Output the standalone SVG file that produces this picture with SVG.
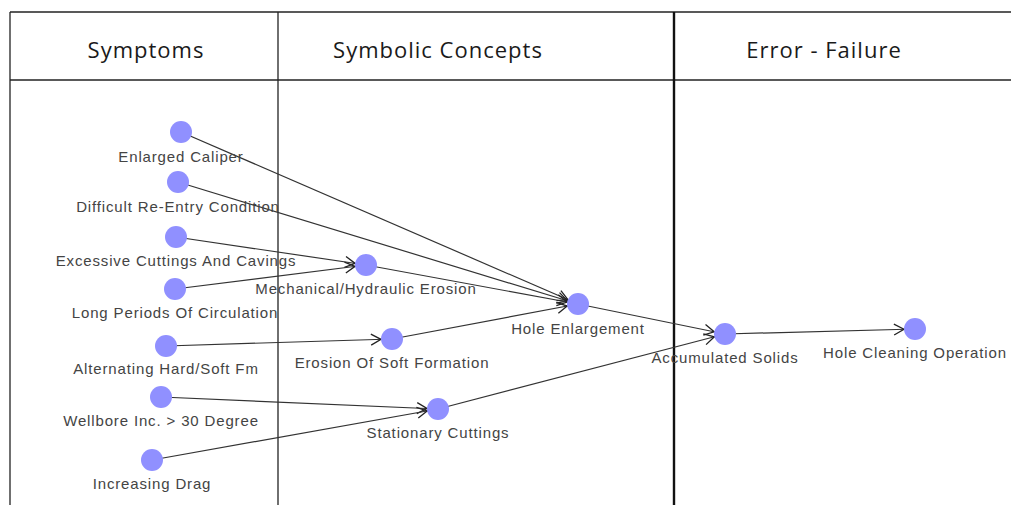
<svg xmlns="http://www.w3.org/2000/svg" width="1011" height="505" viewBox="0 0 1011 505">
  <style>
    .grid { stroke: #222; stroke-width: 1.3; fill: none; }
    .grid-thick { stroke: #111; stroke-width: 2.4; fill: none; }
    .head { font-family: "Open Sans", "Liberation Sans", sans-serif; font-size: 22px; letter-spacing: 1px; fill: #1a1a1a; text-anchor: middle; }
    .edge { stroke: #333; stroke-width: 1.2; fill: none; marker-end: url(#arrow); }
    .node circle { fill: #9090ff; }
    .node text { font-family: "Liberation Sans", Arial, sans-serif; font-size: 15px; letter-spacing: 0.85px; fill: #444; text-anchor: middle; }
  </style>
  <defs>
    <!-- open arrowhead, tip set back by the node radius so it touches the circle -->
    <marker id="arrow" markerUnits="userSpaceOnUse" markerWidth="40" markerHeight="20" viewBox="-30 -10 40 20" refX="0" refY="0" orient="auto" overflow="visible">
      <path d="M -21 -5.5 L -11 0 L -21 5.5" fill="none" stroke="#222" stroke-width="1.3"/>
    </marker>
  </defs>

  <rect width="1011" height="505" fill="#fff"/>

  <!-- table frame -->
  <g id="table">
    <line class="grid" x1="10" y1="12" x2="1011" y2="12"/>
    <line class="grid" x1="10" y1="80" x2="1011" y2="80"/>
    <line class="grid" x1="10" y1="12" x2="10" y2="505"/>
    <line class="grid" x1="278" y1="12" x2="278" y2="505"/>
    <line class="grid-thick" x1="674" y1="12" x2="674" y2="505"/>
    <text class="head" x="146" y="58">Symptoms</text>
    <text class="head" x="438" y="58">Symbolic Concepts</text>
    <text class="head" x="824" y="58">Error - Failure</text>
  </g>

  <!-- connectors -->
  <g id="connectors">
    <line class="edge" x1="181" y1="132" x2="578" y2="304"/>
    <line class="edge" x1="178" y1="182" x2="578" y2="304"/>
    <line class="edge" x1="176" y1="237" x2="366" y2="265"/>
    <line class="edge" x1="175" y1="289" x2="366" y2="265"/>
    <line class="edge" x1="366" y1="265" x2="578" y2="304"/>
    <line class="edge" x1="166" y1="346" x2="392" y2="339"/>
    <line class="edge" x1="392" y1="339" x2="578" y2="304"/>
    <line class="edge" x1="161" y1="397" x2="438" y2="409"/>
    <line class="edge" x1="152" y1="460" x2="438" y2="409"/>
    <line class="edge" x1="578" y1="304" x2="725" y2="334"/>
    <line class="edge" x1="438" y1="409" x2="725" y2="334"/>
    <line class="edge" x1="725" y1="334" x2="915" y2="329"/>
  </g>

  <!-- nodes -->
  <g id="enlarged-caliper" class="node"><circle cx="181" cy="132" r="11"/><text x="181" y="162">Enlarged Caliper</text></g>
  <g id="difficult-re-entry" class="node"><circle cx="178" cy="182" r="11"/><text x="178" y="212">Difficult Re-Entry Condition</text></g>
  <g id="excessive-cuttings" class="node"><circle cx="176" cy="237" r="11"/><text x="176" y="266">Excessive Cuttings And Cavings</text></g>
  <g id="long-periods" class="node"><circle cx="175" cy="289" r="11"/><text x="175" y="318">Long Periods Of Circulation</text></g>
  <g id="alternating-fm" class="node"><circle cx="166" cy="346" r="11"/><text x="166" y="374">Alternating Hard/Soft Fm</text></g>
  <g id="wellbore-inc" class="node"><circle cx="161" cy="397" r="11"/><text x="161" y="426">Wellbore Inc. &gt; 30 Degree</text></g>
  <g id="increasing-drag" class="node"><circle cx="152" cy="460" r="11"/><text x="152" y="489">Increasing Drag</text></g>
  <g id="mech-hydraulic-erosion" class="node"><circle cx="366" cy="265" r="11"/><text x="366" y="294">Mechanical/Hydraulic Erosion</text></g>
  <g id="erosion-soft-formation" class="node"><circle cx="392" cy="339" r="11"/><text x="392" y="368">Erosion Of Soft Formation</text></g>
  <g id="stationary-cuttings" class="node"><circle cx="438" cy="409" r="11"/><text x="438" y="438">Stationary Cuttings</text></g>
  <g id="hole-enlargement" class="node"><circle cx="578" cy="304" r="11"/><text x="578" y="334">Hole Enlargement</text></g>
  <g id="accumulated-solids" class="node"><circle cx="725" cy="334" r="11"/><text x="725" y="363">Accumulated Solids</text></g>
  <g id="hole-cleaning" class="node"><circle cx="915" cy="329" r="11"/><text x="915" y="358">Hole Cleaning Operation</text></g>
</svg>
